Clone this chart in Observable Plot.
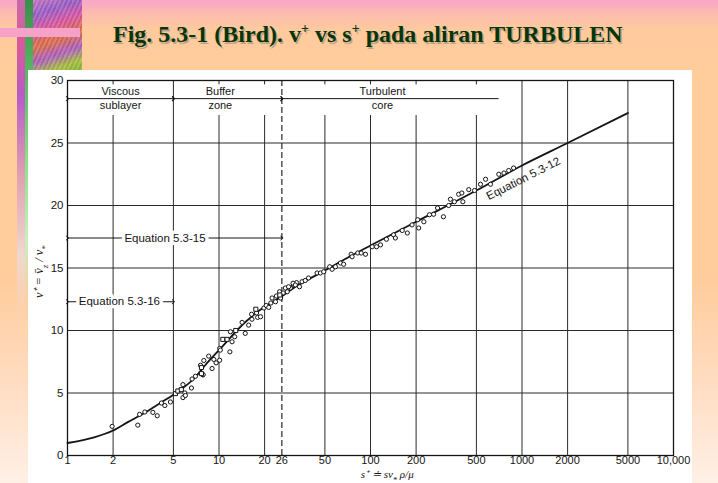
<!DOCTYPE html>
<html><head><meta charset="utf-8">
<script src="https://cdn.jsdelivr.net/npm/d3@7"></script>
<script src="https://cdn.jsdelivr.net/npm/@observablehq/plot@0.6"></script>
<style>
html,body{margin:0;padding:0;}
body{width:718px;height:483px;overflow:hidden;position:relative;
 background:linear-gradient(180deg,#f8a6c8 0px,#fcbcae 14px,#ffca9e 30px,#ffcc9c 60px,#ffcc9c 280px,#ffdcc0 380px,#fff0e6 483px);}
#texA{position:absolute;left:17px;top:0;width:8px;height:320px;
 background:linear-gradient(180deg,#c86aa8 0%,#d8589c 15%,#b85ac8 30%,#e0a0b0 55%,#f0d8d0 80%,rgba(255,240,230,0) 100%);}
#green{position:absolute;left:25px;top:0;width:8px;height:300px;
 background:linear-gradient(180deg,#3a8f4a 0%,#52b060 20%,#80e080 50%,#c8f0c0 80%,rgba(255,255,255,0) 100%);}
#texB{position:absolute;left:33px;top:0;width:49px;height:70px;
 background:
  repeating-linear-gradient(115deg,rgba(255,255,255,0.12) 0 2px,rgba(0,0,0,0.06) 2px 4px),
  linear-gradient(160deg,#c878c0 0%,#9a60c8 18%,#d858a8 35%,#e07048 55%,#b060c0 72%,#a8c040 88%,#88b838 100%);}
#pinkbar{position:absolute;left:0;top:28px;width:80px;height:9px;background:#f6a2c8;}
#title{position:absolute;left:113px;top:21px;font-family:"Liberation Serif","Times New Roman",serif;font-weight:bold;
 font-size:24px;color:#063506;white-space:nowrap;text-shadow:1.5px 1.5px 0 rgba(110,110,110,0.45);}
#title sup{font-size:14px;vertical-align:0;position:relative;top:-9px;}
#panel{position:absolute;left:28px;top:70px;width:664px;height:413px;background:#fff;}
#panel svg{position:absolute;left:0;top:0;}
</style></head>
<body>
<div id="texA"></div><div id="green"></div><div id="texB"></div><div id="pinkbar"></div>
<div id="title">Fig. 5.3-1 (Bird). v<sup>+</sup> vs s<sup>+</sup> pada aliran TURBULEN</div>
<div id="panel"></div>
<script>
// ---- data ----
const curveS = [1, 1.5, 2, 2.5, 3.3, 4.2, 5.2, 7, 8.1, 10, 15, 20, 25, 33, 50, 70, 100, 200, 500, 1000, 2000, 5000];
const curveV = [1.0, 1.45, 2.0, 2.67, 3.48, 4.28, 5.0, 6.28, 7.22, 8.43, 10.7, 11.9, 12.6, 13.6, 14.8, 15.8, 16.8, 18.7, 21.2, 23.2, 25.0, 27.4];

const circleS = [1.97,2.91,2.99,3.24,3.66,3.91,4.17,4.39,4.78,5.78,5.95,5.78,6.0,6.58,6.64,6.99,7.82,7.94,7.55,7.86,
 8.55,9.0,9.25,9.57,10.1,10.1,10.2,11.8,11.9,12.2,12.7,14.2,14.9,15.7,16.5,16.4,17.7,18.0,18.8,19.8,
 20.5,21.3,22.4,23.6,23.9,25.1,25.5,28.2,29.6,31.0,32.5,27.4,28.8,30.8,31.9,35.3,37.1,39.0,44.4,46.7,
 49.1,53.8,55.8,58.7,63.3,66.5,74.5,75.6,82.4,86.8,92.7,102.6,109.6,116.4,127.4,142,146,162,175,188,
 205,208,225,245,261,277,303,328,337,358,382,401,407,445,486,532,575,620,703,760,817,880,22.0,26.5,34];
const circleV = [2.33,2.43,3.29,3.48,3.45,3.18,4.2,4.0,4.28,5.67,5.0,4.63,4.8,5.4,6.12,6.34,6.45,7.6,7.22,6.47,
 7.95,6.96,7.68,7.41,7.62,8.56,8.43,8.29,9.9,9.1,9.5,10.65,9.77,10.43,10.9,11.3,11.4,11.05,11.1,11.8,
 12.0,11.85,12.6,12.3,12.76,13.1,12.6,13.1,13.4,13.64,13.83,13.4,13.5,13.78,13.64,13.9,14.0,14.2,14.6,14.6,
 14.7,15.1,14.9,15.1,15.4,15.3,16.1,15.9,16.2,16.2,16.1,16.7,16.7,16.85,17.3,17.65,17.4,18.0,17.8,18.45,
 18.86,18.2,18.7,19.26,19.3,19.8,19.1,20.0,20.5,20.3,20.9,21.0,20.3,21.27,21.2,21.7,22.1,21.7,22.5,22.6,22.8,23.0,12.2,13.0,13.5];
const squareS = [5.16,5.35,5.64,7.66,7.66,10.6,11.3,12.9,17.5,25.2];
const squareV = [4.95,5.16,5.27,6.55,7.04,9.29,9.29,10.0,11.7,12.84];

const xTicks = [1,2,5,10,20,26,50,100,200,500,1000,2000,5000,10000];
const xTickLabels = ["1","2","5","10","20","26","50","100","200","500","1000","2000","5000","10,000"];
const yTicks = [0,5,10,15,20,25,30];
const gridX = [2,5,10,20,50,100,200,500,1000,2000,5000];
const gridXTop = [27.2,30,27.2,27.2,27.2,27.2,27.2,27.2,30,30,30];
const gridY = [5,10,15,20,25];

const regionName1 = ["Viscous","Buffer","Turbulent"];
const regionName2 = ["sublayer","zone","core"];
const regionFrom = [1,5,26];
const regionTo = [5,26,700];
const regionMid = [2.24,10.2,120];
const regionLevel = 28.55;

const eqName = ["Equation 5.3-15","Equation 5.3-16"];
const eqFrom = [1,1];
const eqTo = [26,5];
const eqLevel = [17.4,12.3];
const eqMid = [4.4,2.2];
const eqCurveLabel = "Equation 5.3-12";
const eqCurveAt = [1020, 22.15];

// ---- tables ----
const curve = curveS.map((s,i)=>({s, v:curveV[i]}));
const circles = circleS.map((s,i)=>({s, v:circleV[i]}));
const squares = squareS.map((s,i)=>({s, v:squareV[i]}));
const grid = gridX.map((s,i)=>({s, top:gridXTop[i]}));
const xTickTable = xTicks.map((s,i)=>({s, label:xTickLabels[i]}));
const regions = regionName1.map((n,i)=>({n1:n, n2:regionName2[i], a:regionFrom[i], b:regionTo[i], m:regionMid[i]}));
const eqs = eqName.map((n,i)=>({n, a:eqFrom[i], b:eqTo[i], y:eqLevel[i], m:eqMid[i]}));

const ink = "#151515";
const sans = "Liberation Sans, Arial, sans-serif";
const YLAB = "v⁺ = v̄z / v*";
const XLAB = "s⁺ ≐ sv* ρ/μ";

const chart = Plot.plot({
  width: 664, height: 413,
  marginLeft: 39, marginRight: 19, marginTop: 10, marginBottom: 28,
  style: {background: "transparent", fontFamily: sans, fontSize: "11px", color: ink},
  x: {type: "log", domain: [1, 10000], axis: null},
  y: {domain: [0, 30]},
  marks: [
    Plot.ruleY(gridY, {stroke: "#2a2a2a", strokeWidth: 1}),
    Plot.ruleX(grid, {x: "s", y1: 0, y2: "top", stroke: "#2a2a2a", strokeWidth: 1}),
    Plot.ruleX(grid.filter(d => d.top < 30), {x: "s", y1: 29.65, y2: 30, stroke: "#2a2a2a", strokeWidth: 1}),
    Plot.ruleX([26], {y1: 0, y2: 30, stroke: ink, strokeWidth: 1.1, strokeDasharray: "6,3"}),
    Plot.frame({stroke: ink, strokeWidth: 1.3}),
    Plot.text(xTickTable, {x: "s", text: "label", frameAnchor: "bottom", lineAnchor: "top", dy: 1, fontSize: 11, fill: ink}),
    Plot.axisY({ticks: yTicks, tickSize: 0, tickPadding: 4, label: null, fontSize: 11.5}),
    // region arrows
    Plot.link(regions.filter(d => d.n1 !== "Turbulent"), {x1: "a", x2: "b", y1: regionLevel, y2: regionLevel, stroke: ink, strokeWidth: 1, markerStart: "arrow", markerEnd: "arrow"}),
    Plot.link(regions.filter(d => d.n1 === "Turbulent"), {x1: "a", x2: "b", y1: regionLevel, y2: regionLevel, stroke: ink, strokeWidth: 1, markerStart: "arrow"}),
    Plot.text(regions, {x: "m", y: 29.1, text: "n1", fontSize: 11, fill: ink}),
    Plot.text(regions, {x: "m", y: 28.0, text: "n2", fontSize: 11, fill: ink}),
    // equation range arrows
    Plot.link(eqs, {x1: "a", x2: "b", y1: "y", y2: "y", stroke: ink, strokeWidth: 1, markerStart: "arrow", markerEnd: "arrow"}),
    Plot.text(eqs, {x: "m", y: "y", text: "n", fontSize: 11.5, fill: ink, stroke: "white", strokeWidth: 7}),
    // curve and data
    Plot.line(curve, {x: "s", y: "v", curve: "monotone-x", stroke: ink, strokeWidth: 1.8}),
    Plot.dot(circles, {x: "s", y: "v", r: 2.1, stroke: ink, fill: "white", strokeWidth: 1}),
    Plot.dot(squares, {x: "s", y: "v", r: 2.3, symbol: "square", stroke: ink, fill: "white", strokeWidth: 1}),
    Plot.text([eqCurveLabel], {x: eqCurveAt[0], y: eqCurveAt[1], text: d => d, rotate: -27, fontSize: 11.5, fill: ink}),
    // axis titles
    Plot.text([YLAB], {frameAnchor: "left", y: 14.7, text: d => d, rotate: -90, dx: -29, textAnchor: "middle", fontSize: 12.5, fontStyle: "italic", fontFamily: "Liberation Serif, serif", fill: ink}),
    Plot.text([XLAB], {frameAnchor: "bottom", x: 129, text: d => d, dy: 22, fontSize: 11, fontStyle: "italic", fontFamily: "Liberation Serif, serif", fill: ink})
  ]
});
document.getElementById("panel").appendChild(chart);

// subscripts in the axis titles
function subify(content, parts) {
  d3.select(chart).selectAll("text").filter(function(){ return this.textContent === content; }).each(function(){
    const t = d3.select(this); t.text(null);
    parts.forEach(([s, sub]) => {
      const ts = t.append("tspan").text(s);
      if (sub) ts.attr("baseline-shift", "sub").attr("font-size", "8.5px");
    });
  });
}
subify(YLAB, [["v⁺ = v̄", false], ["z", true], [" / v", false], ["*", true]]);
subify(XLAB, [["s⁺ ≐ sv", false], ["*", true], [" ρ/μ", false]]);
</script>
</body></html>
